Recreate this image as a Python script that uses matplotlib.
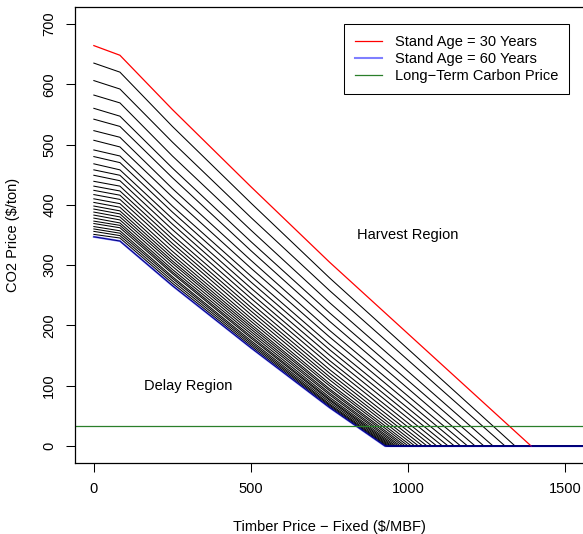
import numpy as np
import matplotlib
matplotlib.use('Agg')
import matplotlib.pyplot as plt

plt.rcParams['font.family'] = ['Liberation Sans', 'DejaVu Sans']

# stand ages 30..60; each curve sampled at a few timber prices, then flat at 0
ages = list(range(30, 61))
x_knots = [0, 83, 250, 500, 750]
y_0 = [664, 635, 606, 582, 560, 542, 523, 507, 491, 480, 468, 458, 449, 439, 431,
       424, 417, 410, 404, 398, 393, 388, 383, 378, 373, 369, 364, 360, 356, 351, 347]
y_83 = [648, 620, 592, 569, 547, 530, 512, 496, 481, 470, 458, 449, 440, 431, 423,
        416, 409, 402, 396, 390, 385, 380, 375, 370, 366, 362, 357, 353, 349, 345, 340]
y_250 = [558, 530, 504, 481, 461, 445, 427, 413, 398, 388, 377, 368, 359, 350, 343,
         336, 330, 323, 317, 312, 307, 303, 298, 293, 289, 286, 281, 278, 274, 270, 266]
y_500 = [430, 403, 379, 358, 339, 324, 308, 295, 282, 272, 262, 253, 245, 237, 230,
         224, 218, 212, 207, 202, 198, 194, 190, 186, 182, 179, 175, 172, 169, 166, 163]
y_750 = [305, 279, 258, 238, 221, 207, 192, 181, 169, 160, 151, 142, 135, 127, 121,
         115, 110, 104, 100, 95, 92, 88, 85, 81, 78, 76, 73, 70, 68, 66, 64]
x_zero = [1392, 1341, 1309, 1271, 1242, 1214, 1190, 1168, 1148, 1128, 1110, 1092, 1076,
          1061, 1047, 1034, 1022, 1011, 1001, 992, 984, 976, 969, 962, 956, 950, 945,
          940, 935, 931, 927]
x_end = 1600
carbon_price = 33

x_ticks = [0, 500, 1000, 1500]
y_ticks = [0, 100, 200, 300, 400, 500, 600, 700]

FS = 10.5


def curve(i):
    xs = x_knots + [x_zero[i], x_end]
    ys = [y_0[i], y_83[i], y_250[i], y_500[i], y_750[i], 0, 0]
    return xs, ys


fig = plt.figure(figsize=(5.83, 5.34), dpi=100)
ax = fig.add_axes([75 / 583, 71 / 534, 509 / 583, 456 / 534])

for i in range(1, len(ages)):
    xs, ys = curve(i)
    ax.plot(xs, ys, color='black', lw=0.75)

xs, ys = curve(0)
red, = ax.plot(xs[:-1], ys[:-1], color='red', lw=0.9, label='Stand Age = 30 Years')
xs, ys = curve(len(ages) - 1)
blue, = ax.plot(xs, ys, color=(0, 0, 1, 0.5), lw=1.5, label='Stand Age = 60 Years')
green = ax.axhline(carbon_price, color='#2a7f2a', lw=0.9,
                   label='Long\u2212Term Carbon Price')

ax.text(1000, 350, 'Harvest Region', ha='center', va='center', fontsize=FS)
ax.text(300, 100, 'Delay Region', ha='center', va='center', fontsize=FS)

ax.set_xlim(-60, 1560)
ax.set_ylim(-28, 728)
ax.set_xticks(x_ticks)
ax.set_yticks(y_ticks)
ax.tick_params(length=6.5, width=0.75, pad=7, labelsize=FS)
for lab in ax.get_yticklabels():
    lab.set_rotation(90)
    lab.set_va('center')
for s in ax.spines.values():
    s.set_linewidth(0.9)

fig.text(329.5 / 583, 1 - 527 / 534, 'Timber Price \u2212 Fixed ($/MBF)',
         ha='center', va='center', fontsize=FS)
fig.text(13 / 583, 1 - 235 / 534, 'CO2 Price ($/ton)', rotation=90,
         ha='center', va='center', fontsize=FS)

leg = ax.legend(handles=[red, blue, green],
                loc='upper right', bbox_to_anchor=(569 / 583, 1 - 24 / 534),
                bbox_transform=fig.transFigure, borderaxespad=0, fancybox=False,
                framealpha=1, edgecolor='black', fontsize=FS, handlelength=1.85,
                handletextpad=0.9, labelspacing=0.22, borderpad=0.75)
leg.get_frame().set_linewidth(0.75)

fig.savefig('out.png', dpi=100)
